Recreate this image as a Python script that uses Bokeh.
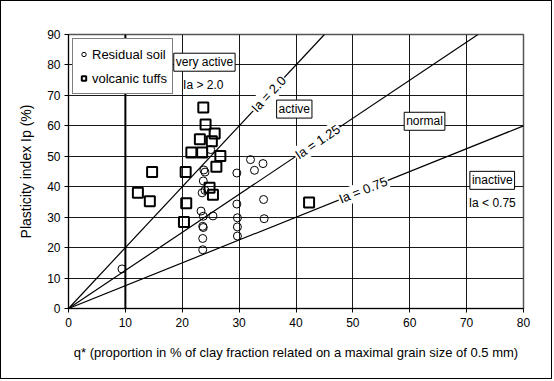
from bokeh.plotting import figure
from bokeh.models import Label, Span, Legend, LegendItem, FixedTicker
from bokeh.embed import file_html
from bokeh.resources import INLINE

# Residual soil samples: clay fraction q* (%) and plasticity index Ip (%)
soil_q = [9.4, 25.0, 23.8, 24.0, 23.7, 23.5, 24.0, 23.3, 23.7, 25.4, 23.6, 23.7,
          23.6, 23.6, 29.6, 29.6, 29.7, 29.7, 29.7, 32.0, 32.7, 34.2, 34.3, 34.4]
soil_ip = [13.0, 52.2, 45.5, 44.8, 41.9, 38.0, 38.8, 32.0, 30.3, 30.4, 27.0, 26.6,
           23.0, 19.3, 44.5, 34.3, 29.8, 26.8, 23.8, 48.9, 45.4, 47.6, 35.8, 29.5]

# Volcanic tuff samples
tuff_q = [12.2, 14.3, 14.7, 20.3, 20.7, 20.6, 21.6, 23.5, 23.1, 23.7, 24.1, 25.2,
          25.7, 26.7, 26.0, 24.8, 25.4, 42.3]
tuff_ip = [38.0, 35.2, 44.8, 28.4, 34.6, 44.8, 51.2, 51.2, 55.6, 66.0, 60.4, 54.9,
           57.5, 50.1, 46.6, 39.7, 37.4, 34.8]

# Activity boundaries Ia = Ip / q*
activity = [2.0, 1.25, 0.75]
activity_labels = ["Ia = 2.0", "Ia = 1.25", "Ia = 0.75"]

x_ticks = [0, 10, 20, 30, 40, 50, 60, 70, 80]
y_ticks = [0, 10, 20, 30, 40, 50, 60, 70, 80, 90]

FONT = "Liberation Sans"
X_MAX, Y_MAX = 80, 90

p = figure(width=552, height=379, x_range=(0, X_MAX), y_range=(0, Y_MAX),
           output_backend="svg", toolbar_location=None,
           min_border_left=67, min_border_right=30,
           min_border_top=33, min_border_bottom=72)
# thin frame around the whole chart
p.styles = {"border": "1px solid black"}
p.background_fill_color = "white"
p.border_fill_color = "white"
p.outline_line_color = "#555555"
p.outline_line_width = 1.5

# axes
p.xaxis.ticker = FixedTicker(ticks=x_ticks)
p.yaxis.ticker = FixedTicker(ticks=y_ticks)
for ax in (p.xaxis[0], p.yaxis[0]):
    ax.axis_line_color = "black"
    ax.axis_line_width = 1
    ax.major_tick_line_color = "black"
    ax.major_tick_in = 0
    ax.major_tick_out = 4
    ax.minor_tick_line_color = None
    ax.major_label_text_font = FONT
    ax.major_label_text_font_size = "12px"
    ax.major_label_text_color = "black"
    ax.axis_label_text_font = FONT
    ax.axis_label_text_font_style = "normal"
    ax.axis_label_text_color = "black"
p.xaxis.major_label_standoff = 5
p.yaxis.major_label_standoff = 4
p.xaxis.axis_label = "q* (proportion in % of clay fraction related on a maximal grain size of 0.5 mm)"
p.xaxis.axis_label_text_font_size = "13px"
p.xaxis.axis_label_standoff = 15
p.yaxis.axis_label = "Plasticity index Ip (%)"
p.yaxis.axis_label_text_font_size = "14px"
p.yaxis.axis_label_standoff = 10

p.xgrid.grid_line_color = "black"
p.ygrid.grid_line_color = "black"
p.xgrid.grid_line_width = 1
p.ygrid.grid_line_width = 1
p.xgrid.grid_line_alpha = 0.9
p.ygrid.grid_line_alpha = 0.9

# bold reference line at q* = 10
p.add_layout(Span(location=10, dimension="height", line_color="black", line_width=2))

# activity lines from origin to the frame edge
for ratio in activity:
    x_end = min(X_MAX, Y_MAX / ratio)
    p.line([0, x_end], [0, ratio * x_end], line_color="black", line_width=1.2)

# data
r_soil = p.scatter(soil_q, soil_ip, marker="circle", size=8, fill_color=None,
                   line_color="black", line_width=1)
r_tuff = p.scatter(tuff_q, tuff_ip, marker="square", size=10, fill_color=None,
                   line_color="black", line_width=2)

# line labels, rotated along each boundary
label_pos = [(35.2, 70.4, 47), (43.8, 54.7, 33.7), (51.8, 38.9, 21.8)]
for text, (lx, ly, ang) in zip(activity_labels, label_pos):
    p.add_layout(Label(x=lx, y=ly, text=text, angle=ang, angle_units="deg",
                       text_align="center", text_baseline="middle",
                       text_font=FONT, text_font_size="13px", text_color="black",
                       background_fill_color="white", padding=1))

# activity class annotations
boxed = [("very active", 23.9, 80.9), ("active", 39.7, 65.5),
         ("normal", 62.6, 61.5), ("inactive", 74.5, 42.1)]
for text, bx, by in boxed:
    p.add_layout(Label(x=bx, y=by, text=text, text_align="center",
                       text_baseline="middle", text_font=FONT,
                       text_font_size="12px", text_color="black",
                       background_fill_color="white", border_line_color="black",
                       border_line_width=1, padding=2))
plain = [("Ia > 2.0", 23.7, 73.3), ("Ia < 0.75", 74.5, 34.5)]
for text, bx, by in plain:
    p.add_layout(Label(x=bx, y=by, text=text, text_align="center",
                       text_baseline="middle", text_font=FONT,
                       text_font_size="12px", text_color="black"))

legend = Legend(items=[LegendItem(label="Residual soil", renderers=[r_soil]),
                       LegendItem(label="volcanic tuffs", renderers=[r_tuff])],
                location="top_left")
legend.label_text_font = FONT
legend.label_text_font_size = "13px"
legend.label_text_color = "black"
legend.border_line_color = "black"
legend.border_line_width = 1.5
legend.background_fill_color = "white"
legend.background_fill_alpha = 1
legend.glyph_width = 11
legend.glyph_height = 16
legend.label_standoff = 3
legend.label_height = 20
legend.spacing = 4
legend.padding = 5
legend.margin = 4
p.add_layout(legend, "center")

open("out.html", "w").write(file_html(p, INLINE))
